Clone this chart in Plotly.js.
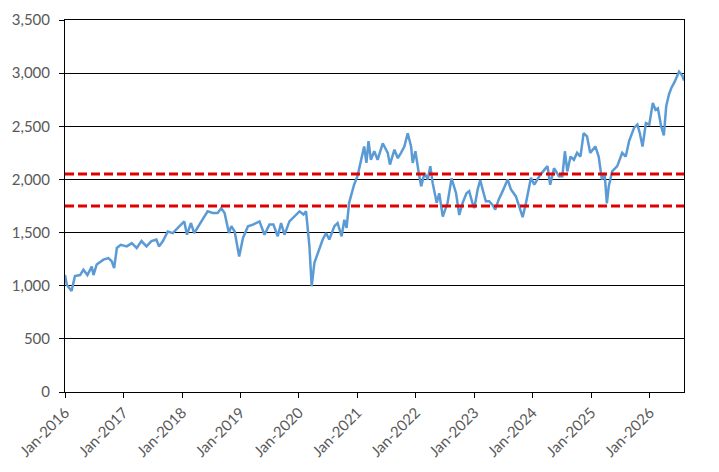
<!DOCTYPE html>
<html>
<head>
<meta charset="utf-8">
<script src="https://cdn.plot.ly/plotly-3.0.1.min.js"></script>
<style>
  html, body { margin: 0; padding: 0; background: #fff; }
  #chart { width: 719px; height: 472px; }
</style>
</head>
<body>
<div id="chart"></div>
<script>
// index level
const dates = [
  '2016-01-01','2016-01-12','2016-02-11','2016-03-03','2016-04-04','2016-04-25','2016-05-20','2016-06-16',
  '2016-06-27','2016-07-17','2016-08-28','2016-09-28','2016-10-19','2016-11-03','2016-11-20','2016-12-14',
  '2017-01-21','2017-02-21','2017-03-24','2017-04-23','2017-05-24','2017-06-24','2017-07-25','2017-08-10',
  '2017-09-04','2017-10-04','2017-11-04','2017-12-05',
  '2018-01-15','2018-02-01','2018-02-26','2018-03-18','2018-04-19','2018-05-10','2018-06-10','2018-07-12',
  '2018-08-12','2018-09-03','2018-09-24','2018-10-21','2018-11-05','2018-11-26','2018-12-24',
  '2019-01-17','2019-02-17','2019-03-20','2019-04-30','2019-05-31','2019-07-01','2019-07-26','2019-08-22',
  '2019-09-12','2019-10-03','2019-11-03','2019-12-04',
  '2020-01-05','2020-01-30','2020-02-15','2020-03-07','2020-03-21','2020-04-07','2020-04-28','2020-05-29',
  '2020-06-19','2020-07-09','2020-08-10','2020-08-30','2020-09-24','2020-10-11','2020-10-25','2020-11-10',
  '2020-12-11',
  '2021-01-01','2021-01-22','2021-02-12','2021-02-26','2021-03-11','2021-03-26','2021-04-16','2021-05-07',
  '2021-06-08','2021-07-09','2021-07-23','2021-08-20','2021-09-10','2021-09-30','2021-10-21','2021-11-11',
  '2021-12-02','2021-12-12','2021-12-29',
  '2022-01-19','2022-02-03','2022-02-24','2022-03-16','2022-04-01','2022-04-16','2022-05-11','2022-05-27',
  '2022-06-18','2022-07-18','2022-08-12','2022-09-09','2022-09-29','2022-10-20','2022-11-13','2022-11-30',
  '2022-12-20',
  '2023-01-01','2023-01-22','2023-02-07','2023-02-22','2023-03-14','2023-04-04','2023-04-25','2023-05-12',
  '2023-06-02','2023-06-27','2023-07-28','2023-08-18','2023-09-18','2023-10-09','2023-10-30','2023-11-20',
  '2023-12-21',
  '2024-01-11','2024-02-11','2024-03-13','2024-04-02','2024-04-19','2024-05-13','2024-06-13','2024-07-04',
  '2024-07-20','2024-08-04','2024-08-24','2024-09-14','2024-10-04','2024-10-25','2024-11-14','2024-12-05',
  '2024-12-25',
  '2025-01-26','2025-02-16','2025-03-08','2025-03-25','2025-04-08','2025-04-20','2025-05-11','2025-06-12',
  '2025-07-13','2025-08-04','2025-08-25','2025-09-25','2025-10-16','2025-10-31','2025-11-17','2025-12-08',
  '2025-12-29',
  '2026-01-20','2026-02-06','2026-02-21','2026-03-13','2026-03-30','2026-04-14','2026-05-01','2026-05-16',
  '2026-06-06','2026-07-03','2026-07-24','2026-08-03'
];
const index = [
  1100,1010,950,1090,1100,1150,1100,1180,
  1100,1200,1245,1260,1230,1165,1355,1385,
  1370,1400,1355,1420,1370,1420,1435,1370,
  1420,1510,1495,1545,
  1605,1480,1590,1495,1575,1620,1700,1685,
  1685,1730,1685,1495,1560,1510,1275,
  1450,1560,1575,1605,1480,1575,1575,1465,
  1590,1480,1605,1655,
  1700,1670,1700,1370,995,1215,1310,1435,
  1495,1435,1560,1590,1465,1620,1545,1780,
  1950,
  2030,2170,2310,2155,2360,2185,2265,2185,
  2340,2250,2140,2280,2200,2250,2310,2435,
  2310,2155,2265,
  2060,1935,2060,2000,2125,1965,1780,1870,
  1650,1780,2010,1870,1665,1780,1870,1890,
  1780,
  1730,1905,1995,1905,1795,1795,1760,1715,
  1810,1890,2000,1905,1840,1745,1645,1780,
  2015,
  1950,2030,2090,2125,1950,2105,2030,2030,
  2265,2075,2215,2185,2250,2215,2435,2405,
  2250,
  2310,2215,2000,2060,1775,1935,2075,2125,
  2250,2215,2360,2485,2515,2435,2310,2530,
  2515,
  2720,2655,2670,2500,2415,2690,2800,2860,
  2920,3015,2975,2930
];

// dashed band levels
const bandHigh = 2050;
const bandLow = 1750;
const xStart = '2016-01-01';
const xEnd = '2026-08-03';

const tickFont = {family: 'Lato, "Noto Sans", sans-serif', size: 15, color: '#595959'};

let trace = {
    x: dates,
    y: index,
    mode: 'lines',
    type: 'scatter',
    line: {color: '#5B9BD5', width: 2.5},
    hoverinfo: 'x+y'
};

let high = {
    x: [xStart, xEnd],
    y: [bandHigh, bandHigh],
    mode: 'lines',
    type: 'scatter',
    line: {color: '#E00000', width: 3, dash: '9px,4px'}
};

let low = {
    x: [xStart, xEnd],
    y: [bandLow, bandLow],
    mode: 'lines',
    type: 'scatter',
    line: {color: '#E00000', width: 3, dash: '9px,4px'}
};

const layout = {
    width: 719,
    height: 472,
    margin: {l: 65, r: 35, t: 20, b: 80},
    showlegend: false,
    paper_bgcolor: '#fff',
    plot_bgcolor: '#fff',
    xaxis: {
        type: 'date',
        range: [xStart, xEnd],
        tick0: xStart,
        dtick: 'M12',
        tickformat: '%b-%Y',
        tickangle: -45,
        ticks: 'outside',
        ticklen: 5,
        tickcolor: '#000',
        showgrid: false,
        showline: true,
        linecolor: '#000',
        linewidth: 1,
        mirror: true,
        zeroline: false,
        tickfont: tickFont
    },
    yaxis: {
        range: [0, 3500],
        dtick: 500,
        tickformat: ',',
        ticks: 'outside',
        ticklen: 5,
        tickcolor: '#000',
        ticklabelstandoff: 6,
        showgrid: true,
        gridcolor: '#000',
        gridwidth: 1,
        showline: true,
        linecolor: '#000',
        linewidth: 1,
        mirror: true,
        zeroline: false,
        tickfont: tickFont
    }
};

Plotly.newPlot('chart', [trace, high, low], layout, {displayModeBar: false, staticPlot: true});
</script>
</body>
</html>
